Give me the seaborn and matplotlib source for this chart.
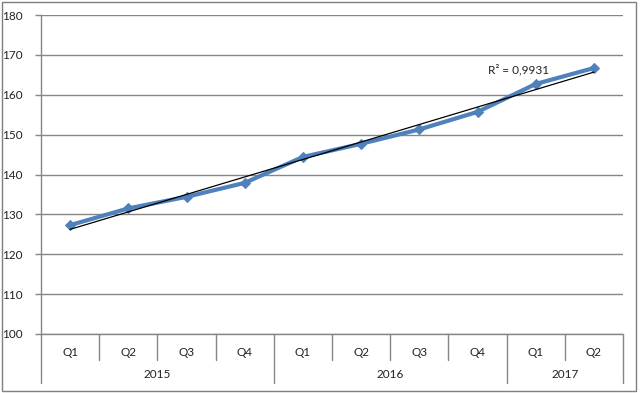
import numpy as np
import pandas as pd
import matplotlib
matplotlib.use("Agg")
import matplotlib.pyplot as plt
import matplotlib.transforms as mtrans
from matplotlib.patches import Rectangle
import seaborn as sns

# data
quarters = ["Q1", "Q2", "Q3", "Q4", "Q1", "Q2", "Q3", "Q4", "Q1", "Q2"]
years = ["2015"] * 4 + ["2016"] * 4 + ["2017"] * 2
values = [127.3, 131.5, 134.4, 137.9, 144.4, 147.7, 151.3, 155.7, 162.7, 166.7]
r2_label = "R² = 0,9931"

df = pd.DataFrame({"idx": np.arange(len(values)), "quarter": quarters,
                   "year": years, "value": values})

sns.set_theme(style="white")
plt.rcParams["font.family"] = ["Lato", "DejaVu Sans"]

W, H = 640, 393
fs = 8.5
txt_c = "#222222"
fig = plt.figure(figsize=(W / 100, H / 100), dpi=100)
ax = fig.add_axes([41 / W, (H - 334) / H, 582 / W, 319 / H])

grid_c = "#868686"
blue = "#4F81BD"

# linear trendline
k, b = np.polyfit(df["idx"], df["value"], 1)
trend = k * df["idx"] + b
ax.plot(df["idx"], trend, color="black", lw=0.9, zorder=3)

sns.lineplot(data=df, x="idx", y="value", ax=ax, color=blue, lw=3,
             marker="D", markersize=5.5, markeredgecolor=blue, zorder=2)

ax.text(7.7, 166.2, r2_label, ha="center", va="center", fontsize=fs,
        color=txt_c)

ax.set_xlim(-0.5, len(values) - 0.5)
ax.set_ylim(100, 180)
ax.set_yticks(np.arange(100, 181, 10))
ax.yaxis.grid(True, color=grid_c, lw=1)
ax.set_axisbelow(True)
ax.set_xlabel("")
ax.set_ylabel("")
ax.set_xticks([])
ax.tick_params(axis="y", length=4, width=1, color=grid_c, left=True,
               labelsize=fs, labelcolor=txt_c, pad=9)
for side in ["top", "right", "bottom"]:
    ax.spines[side].set_visible(False)
ax.spines["left"].set_color(grid_c)
ax.spines["left"].set_linewidth(1)

# two-level category axis
tr = mtrans.blended_transform_factory(ax.transData, ax.transAxes)
px = 1 / 319
ax.plot([-0.5, len(values) - 0.5], [0, 0], transform=tr, color=grid_c,
        lw=1, clip_on=False)
for i in range(len(values) + 1):
    edge = i in (0, len(values)) or years[i - 1] != years[i]
    depth = 49 if edge else 26
    ax.plot([i - 0.5, i - 0.5], [0, -depth * px], transform=tr,
            color=grid_c, lw=1, clip_on=False)
for i, q in enumerate(quarters):
    ax.text(i, -18 * px, q, transform=tr, ha="center", va="center",
            fontsize=fs, color=txt_c)
for yr in dict.fromkeys(years):
    pos = df.loc[df["year"] == yr, "idx"]
    ax.text(pos.mean(), -41 * px, yr, transform=tr, ha="center",
            va="center", fontsize=fs, color=txt_c)

# outer chart border
fig.patches.append(Rectangle((1.5 / W, 2 / H), 634 / W, 389 / H,
                             transform=fig.transFigure, fill=False,
                             edgecolor="#7F7F7F", lw=1))

fig.savefig("out.png", dpi=100)
